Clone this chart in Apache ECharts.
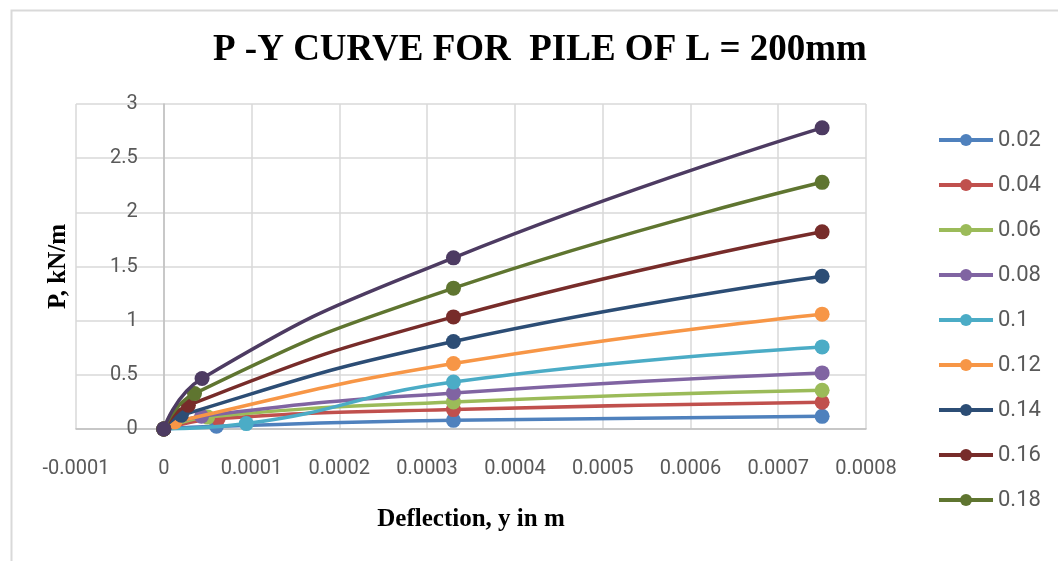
<!DOCTYPE html>
<html>
<head>
<meta charset="utf-8">
<script src="https://cdn.jsdelivr.net/npm/echarts@6/dist/echarts.min.js"></script>
<style>html,body{margin:0;padding:0;background:#fff;}#c{width:1058px;height:561px;}</style>
</head>
<body>
<div id="c"></div>
<script>
// Series names (legend shows first nine; tenth is clipped in the original)
const seriesNames = ['0.02','0.04','0.06','0.08','0.1','0.12','0.14','0.16','0.18','0.2'];
const colors = ['#4F81BD','#C0504D','#9BBB59','#8064A2','#4BACC6','#F79646','#2C4D75','#772C2A','#5F7530','#4D3B62'];
// Deflection (m) and P (kN/m) points per series: origin, then three readings
const defl0 = [0,0,0,0,0,0,0,0,0,0];
const p0    = [0,0,0,0,0,0,0,0,0,0];
const defl1 = [0.00006, 0.000062, 0.00005, 0.000043, 0.000094, 0.0000125, 0.00002, 0.000028, 0.000035, 0.0000436];
const p1    = [0.025, 0.096, 0.11, 0.118, 0.05, 0.065, 0.127, 0.22, 0.327, 0.466];
const defl2 = [0.00033, 0.00033, 0.00033, 0.00033, 0.00033, 0.00033, 0.00033, 0.00033, 0.00033, 0.00033];
const p2    = [0.08, 0.179, 0.25, 0.333, 0.434, 0.604, 0.808, 1.035, 1.30, 1.58];
const defl3 = [0.00075, 0.00075, 0.00075, 0.00075, 0.00075, 0.00075, 0.00075, 0.00075, 0.00075, 0.00075];
const p3    = [0.117, 0.247, 0.358, 0.518, 0.758, 1.06, 1.41, 1.82, 2.277, 2.78];
const xTickMin = -0.0001, xTickMax = 0.0008, xTickStep = 0.0001;
const yTickMin = 0, yTickMax = 3, yTickStep = 0.5;

const chart = echarts.init(document.getElementById('c'), null, {renderer: 'canvas'});
const serif = '"Liberation Serif", "Times New Roman", serif';
const sans = 'Roboto, "Liberation Sans", sans-serif';

const series = seriesNames.map((name, i) => ({
  name: name,
  type: 'line',
  smooth: 0.5,
  symbol: 'circle',
  symbolSize: 15,
  showAllSymbol: true,
  color: colors[i],
  lineStyle: {width: 3.5, color: colors[i]},
  itemStyle: {color: colors[i]},
  data: [[defl0[i], p0[i]], [defl1[i], p1[i]], [defl2[i], p2[i]], [defl3[i], p3[i]]],
  z: 2 + i
}));

// The vertical axis crosses the horizontal one at deflection 0:
// shift it from the grid's left edge by the plot width share of that span.
const gridLeft = 76, gridRight = 192, chartWidth = 1058;
const plotWidth = chartWidth - gridLeft - gridRight;
const yAxisShift = plotWidth * (0 - xTickMin) / (xTickMax - xTickMin);

chart.setOption({
  animation: false,
  backgroundColor: '#fff',
  graphic: [{
    type: 'rect', left: 9, top: 8, z: -1,
    shape: {width: 1100, height: 600},
    style: {fill: 'none', stroke: '#d9d9d9', lineWidth: 2}
  }],
  title: {
    text: 'P -Y CURVE FOR  PILE OF L = 200mm',
    left: 213, top: 32, padding: 0,
    textStyle: {fontFamily: serif, fontWeight: 'bold', fontSize: 37, color: '#000'}
  },
  legend: {
    orient: 'vertical',
    left: 937, top: 128, padding: 0,
    data: seriesNames.slice(0, 9),
    itemWidth: 54, itemHeight: 15,
    itemGap: 21,
    lineStyle: {width: 4},
    textStyle: {fontFamily: sans, fontSize: 22, color: '#595959', lineHeight: 24}
  },
  grid: {left: gridLeft, right: gridRight, top: 104, bottom: 132, containLabel: false, outerBoundsMode: 'none'},
  xAxis: {
    type: 'value',
    min: xTickMin, max: xTickMax, interval: xTickStep,
    name: 'Deflection, y in m',
    nameLocation: 'middle', nameGap: 78,
    nameTextStyle: {fontFamily: serif, fontWeight: 'bold', fontSize: 25, color: '#000'},
    axisLine: {show: true, onZero: true, lineStyle: {color: '#bfbfbf', width: 1.5}},
    axisTick: {show: false},
    axisLabel: {
      margin: 30, fontFamily: sans, fontSize: 20, color: '#595959',
      formatter: v => { const r = Math.round(v * 1e4) / 1e4; return r === 0 ? '0' : r.toFixed(4); }
    },
    splitLine: {show: true, lineStyle: {color: '#d9d9d9', width: 1.5}}
  },
  yAxis: {
    type: 'value',
    min: yTickMin, max: yTickMax, interval: yTickStep,
    offset: -yAxisShift,
    name: 'P, kN/m',
    nameLocation: 'middle', nameGap: 93, nameRotate: 90,
    nameTextStyle: {fontFamily: serif, fontWeight: 'bold', fontSize: 25, color: '#000'},
    axisLine: {show: true, onZero: false, lineStyle: {color: '#bfbfbf', width: 1.5}},
    axisTick: {show: false},
    axisLabel: {margin: 26, fontFamily: sans, fontSize: 20, color: '#595959'},
    splitLine: {show: true, lineStyle: {color: '#d9d9d9', width: 1.5}}
  },
  series: series
});
</script>
</body>
</html>
